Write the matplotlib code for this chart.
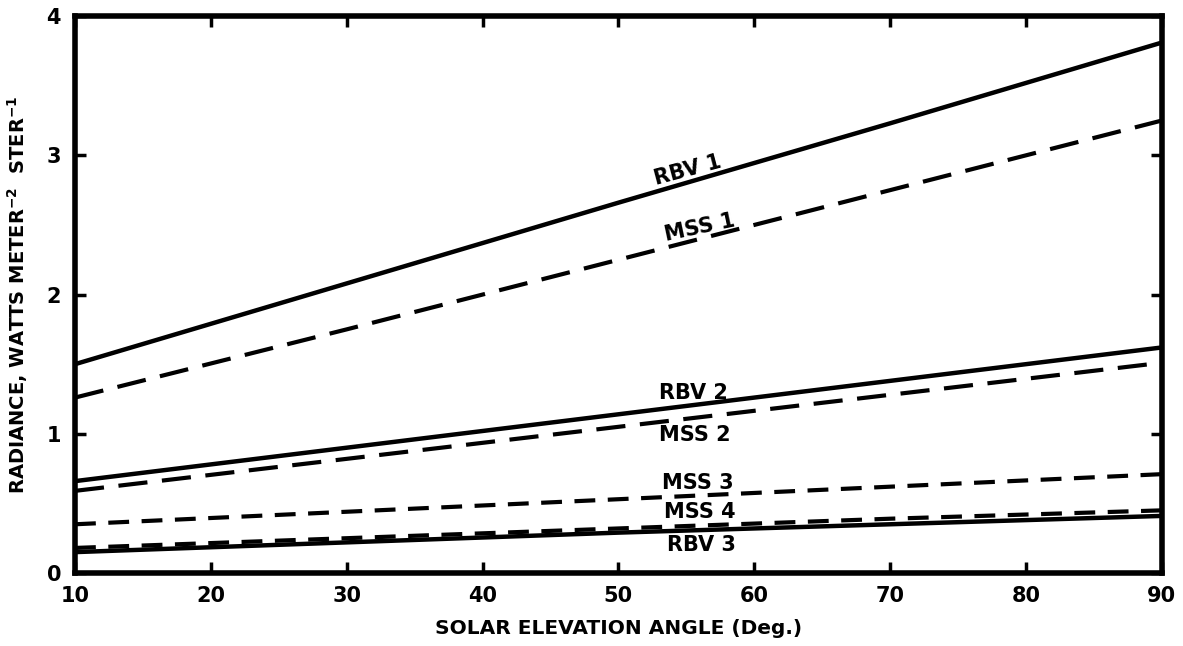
import matplotlib.pyplot as plt
import numpy as np

# Solar elevation angle (deg) and radiance (W m^-2 ster^-1) per sensor band
angle = [10, 30, 50, 70, 90]
rbv1 = [1.50, 2.08, 2.66, 3.23, 3.81]
mss1 = [1.26, 1.75, 2.25, 2.75, 3.25]
rbv2 = [0.66, 0.90, 1.14, 1.38, 1.62]
mss2 = [0.59, 0.82, 1.05, 1.28, 1.51]
mss3 = [0.35, 0.44, 0.53, 0.62, 0.71]
mss4 = [0.18, 0.25, 0.32, 0.39, 0.45]
rbv3 = [0.15, 0.22, 0.29, 0.35, 0.41]

xticks = [10, 20, 30, 40, 50, 60, 70, 80, 90]
yticks = [0, 1, 2, 3, 4]

plt.rcParams['font.family'] = ['DejaVu Sans']
plt.rcParams['font.weight'] = 'bold'

fig = plt.figure(figsize=(11.83, 6.46), dpi=100)
ax = fig.add_axes([0.0634, 0.113, 0.9186, 0.862])

solid = dict(color='black', lw=3.2, solid_capstyle='butt')
long_dash = dict(color='black', lw=3.0, linestyle=(0, (7, 3.5)), dash_capstyle='butt')
short_dash = dict(color='black', lw=3.0, linestyle=(0, (5, 3)), dash_capstyle='butt')

ax.plot(angle, rbv1, **solid)
ax.plot(angle, mss1, **long_dash)
ax.plot(angle, rbv2, **solid)
ax.plot(angle, mss2, **long_dash)
ax.plot(angle, mss3, **short_dash)
ax.plot(angle, rbv3, **solid)
ax.plot(angle, mss4, **short_dash)

lab = dict(fontsize=15, fontweight='bold', ha='center', va='center')
ax.text(55.1, 2.89, 'RBV 1', rotation=15, **lab)
ax.text(56.0, 2.48, 'MSS 1', rotation=12, **lab)
ax.text(55.5, 1.29, 'RBV 2', **lab)
ax.text(55.6, 0.99, 'MSS 2', **lab)
ax.text(55.85, 0.65, 'MSS 3', **lab)
ax.text(56.0, 0.44, 'MSS 4', **lab)
ax.text(56.1, 0.20, 'RBV 3', **lab)

ax.set_xlim(10, 90)
ax.set_ylim(0, 4)
ax.set_xticks(xticks)
ax.set_yticks(yticks)
ax.tick_params(direction='in', length=8, width=2.5, top=True, right=True,
               labelsize=15, pad=9)
ax.tick_params(axis='y', pad=10)
for lbl in ax.get_xticklabels() + ax.get_yticklabels():
    lbl.set_fontweight('bold')
for sp in ax.spines.values():
    sp.set_linewidth(4)

ax.set_xlabel('SOLAR ELEVATION ANGLE (Deg.)', fontsize=14.5, fontweight='bold', labelpad=10)
ax.set_ylabel('RADIANCE, WATTS METER$^{\\mathbf{-2}}$  STER$^{\\mathbf{-1}}$',
              fontsize=14, fontweight='bold', labelpad=12)

fig.savefig('out.png', dpi=100)
